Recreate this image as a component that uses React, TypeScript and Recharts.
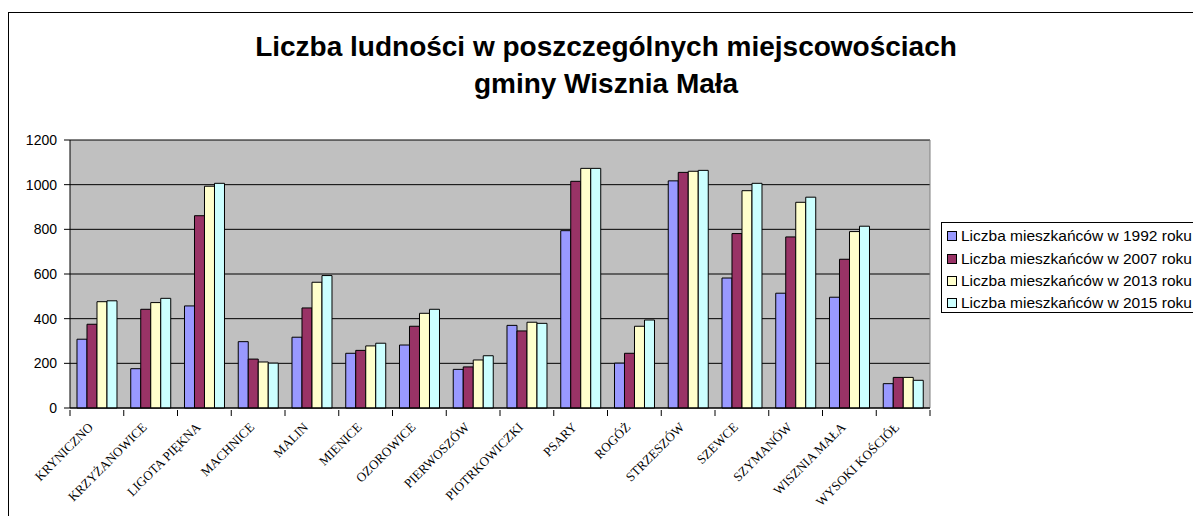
import { Bar, BarChart, CartesianGrid, XAxis, YAxis } from 'recharts'

const miejscowosci = [
  'KRYNICZNO',
  'KRZYŻANOWICE',
  'LIGOTA PIĘKNA',
  'MACHNICE',
  'MALIN',
  'MIENICE',
  'OZOROWICE',
  'PIERWOSZÓW',
  'PIOTRKOWICZKI',
  'PSARY',
  'ROGÓŻ',
  'STRZESZÓW',
  'SZEWCE',
  'SZYMANÓW',
  'WISZNIA MAŁA',
  'WYSOKI KOŚCIÓŁ',
]

const rok1992 = [308, 176, 457, 297, 317, 245, 282, 173, 370, 794, 201, 1017, 582, 514, 496, 109]
const rok2007 = [375, 442, 861, 219, 448, 258, 366, 184, 345, 1015, 245, 1055, 781, 766, 666, 137]
const rok2013 = [476, 472, 993, 206, 563, 278, 424, 215, 384, 1073, 366, 1060, 973, 921, 790, 137]
const rok2015 = [480, 491, 1006, 201, 593, 290, 442, 234, 379, 1073, 394, 1064, 1006, 944, 814, 124]

const yTicks = [0, 200, 400, 600, 800, 1000, 1200]

const serie = [
  { key: 'r1992', name: 'Liczba mieszkańców w 1992 roku', color: '#9999ff' },
  { key: 'r2007', name: 'Liczba mieszkańców w 2007 roku', color: '#993366' },
  { key: 'r2013', name: 'Liczba mieszkańców w 2013 roku', color: '#ffffcc' },
  { key: 'r2015', name: 'Liczba mieszkańców w 2015 roku', color: '#ccffff' },
]

const dane = miejscowosci.map((m, i) => ({
  m,
  r1992: rok1992[i],
  r2007: rok2007[i],
  r2013: rok2013[i],
  r2015: rok2015[i],
}))

const W = 1193
const H = 516
const PLOT_W = 860
const BAND = PLOT_W / miejscowosci.length
const SANS = '"Liberation Sans", Arial, sans-serif'
const SERIF = '"Liberation Serif", "Times New Roman", serif'

// podpis osi X: kreska na granicy kategorii (jak w Excelu) + tekst pod kątem
function TickX(props: any) {
  const { x, y, payload, index } = props
  const last = index === miejscowosci.length - 1
  const tx = x - 3
  const ty = y + 18
  return (
    <g>
      <line x1={x - BAND / 2} x2={x - BAND / 2} y1={y} y2={y + 6} stroke="#000" />
      {last && <line x1={x + BAND / 2} x2={x + BAND / 2} y1={y} y2={y + 6} stroke="#000" />}
      <text
        x={tx}
        y={ty}
        textAnchor="end"
        transform={`rotate(-45 ${tx} ${ty})`}
        fontFamily={SERIF}
        fontSize={13}
        fill="#000"
      >
        {payload.value}
      </text>
    </g>
  )
}

export default function App() {
  return (
    <div
      style={{
        position: 'absolute',
        left: 0,
        top: 0,
        width: W,
        height: H,
        overflow: 'hidden',
        background: '#fff',
      }}
    >
      <div
        style={{
          position: 'absolute',
          left: 8,
          top: 12,
          width: 1300,
          height: 600,
          border: '1px solid #000',
        }}
      />
      <div
        style={{
          position: 'absolute',
          left: 0,
          top: 28,
          width: 1212,
          textAlign: 'center',
          fontFamily: SANS,
          fontWeight: 'bold',
          fontSize: 28,
          lineHeight: '37px',
        }}
      >
        Liczba ludności w poszczególnych miejscowościach
        <br />
        gminy Wisznia Mała
      </div>
      <div style={{ position: 'absolute', left: 0, top: 0 }}>
        <BarChart
          width={W}
          height={H}
          data={dane}
          margin={{ top: 140, right: W - 70 - PLOT_W, left: 20, bottom: 8 }}
          barCategoryGap="13%"
          barGap={0}
        >
          <CartesianGrid fill="#c0c0c0" stroke="#000" vertical={false} />
          <CartesianGrid
            stroke="#808080"
            horizontal={false}
            verticalPoints={[70 + PLOT_W]}
          />
          <XAxis
            dataKey="m"
            interval={0}
            height={100}
            tickSize={0}
            tickLine={false}
            axisLine={{ stroke: '#000' }}
            tick={<TickX />}
          />
          <YAxis
            width={50}
            domain={[0, 1200]}
            ticks={yTicks}
            interval={0}
            tickSize={6}
            tickMargin={7}
            axisLine={{ stroke: '#000' }}
            tickLine={{ stroke: '#000' }}
            tick={{ fontFamily: SANS, fontSize: 14, fill: '#000' }}
          />
          {serie.map((s) => (
            <Bar
              key={s.key}
              dataKey={s.key}
              name={s.name}
              fill={s.color}
              stroke="#000"
              strokeWidth={1}
              isAnimationActive={false}
            />
          ))}
        </BarChart>
      </div>
      <div
        style={{
          position: 'absolute',
          left: 941,
          top: 222,
          width: 300,
          height: 91,
          border: '1px solid #000',
          background: '#fff',
          paddingTop: 2,
          boxSizing: 'border-box',
          fontFamily: SANS,
          fontSize: 15.5,
        }}
      >
        {serie.map((s) => (
          <div
            key={s.key}
            style={{ display: 'flex', alignItems: 'center', height: 22.4, whiteSpace: 'nowrap' }}
          >
            <span
              style={{
                display: 'inline-block',
                width: 8,
                height: 8,
                border: '1px solid #000',
                background: s.color,
                marginLeft: 5,
                marginRight: 4,
              }}
            />
            {s.name}
          </div>
        ))}
      </div>
    </div>
  )
}
